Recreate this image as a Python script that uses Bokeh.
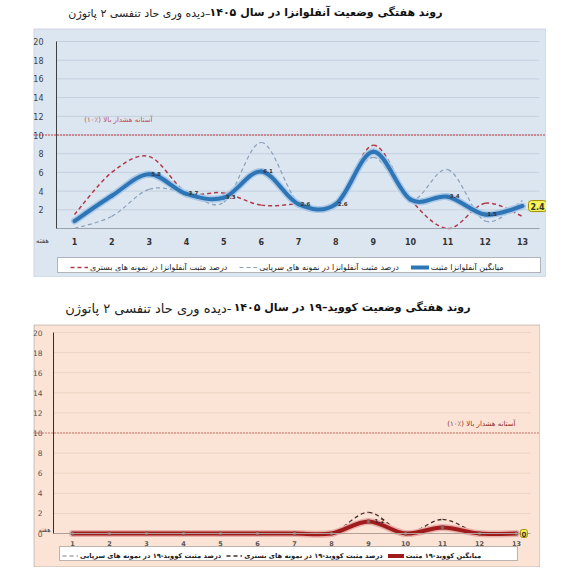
import numpy as np
from bokeh.plotting import figure
from bokeh.models import (Label, LabelSet, Span, Legend, LegendItem, ColumnDataSource,
                          FixedTicker, Range1d, Spacer, BoxAnnotation)
from bokeh.layouts import column, row
from bokeh.embed import file_html
from bokeh.resources import INLINE
from bokeh.core.properties import value

FONT = "DejaVu Sans"
RLM = "\u200f"

# ---------------- data ----------------
weeks = [1, 2, 3, 4, 5, 6, 7, 8, 9, 10, 11, 12, 13]
week_labels = ["1", "2", "3", "4", "5", "6", "7", "8", "9", "10", "11", "12", "13"]
y_ticks = [0, 2, 4, 6, 8, 10, 12, 14, 16, 18, 20]
threshold = 10

flu_avg = [0.8, 3.5, 5.8, 3.7, 3.3, 6.1, 2.6, 2.6, 8.2, 3.1, 3.4, 1.5, 2.4]
flu_hosp = [1.5, 6.0, 7.7, 3.9, 3.8, 2.5, 2.6, 2.5, 8.9, 3.1, 0.0, 2.7, 1.3]
flu_outp = [0.0, 1.3, 4.2, 3.8, 2.8, 9.2, 2.8, 2.8, 7.6, 3.0, 6.3, 0.8, 3.0]
flu_label_weeks = [3, 4, 5, 6, 7, 8, 11, 12]

covid_avg = [0, 0, 0, 0, 0, 0, 0, 0, 1.2, 0, 0.6, 0, 0]
covid_hosp = [0, 0, 0, 0, 0, 0, 0, 0, 2.1, 0, 1.4, 0, 0]
covid_outp = [0, 0, 0, 0, 0, 0, 0, 0, 0, 0, 0, 0, 0]
covid_label_weeks = [9]

title1_bold = "روند هفتگی وضعیت آنفلوانزا در سال ۱۴۰۵"
title1_reg = "–دیده وری حاد تنفسی ۲ پاتوژن"
title2_bold = "روند هفتگی وضعیت کووید–۱۹ در سال ۱۴۰۵"
title2_reg = "-دیده وری حاد تنفسی ۲ پاتوژن"
threshold_text = "آستانه هشدار بالا (٪۱۰)"
week_word = "هفته"

flu_names = ["درصد مثبت آنفلوانزا در نمونه های بستری",
             "درصد مثبت آنفلوانزا در نمونه های سرپایی",
             "میانگین آنفلوانزا مثبت"]
covid_names = ["درصد مثبت کووید-۱۹ در نمونه های سرپایی",
               "درصد مثبت کووید-۱۹ در نمونه های بستری",
               "میانگین کووید-۱۹ مثبت"]


def smooth(xs, ys, t=1.0 / 6.0):
    xs = np.asarray(xs, float)
    ys = np.asarray(ys, float)
    n = len(xs)
    xp = np.concatenate([[xs[0]], xs, [xs[-1]]])
    yp = np.concatenate([[ys[0]], ys, [ys[-1]]])
    return dict(
        x0=xs[:-1], y0=ys[:-1], x1=xs[1:], y1=ys[1:],
        cx0=xs[:-1] + (xp[2:n + 1] - xp[0:n - 1]) * t,
        cy0=ys[:-1] + (yp[2:n + 1] - yp[0:n - 1]) * t,
        cx1=xs[1:] - (xp[3:n + 2] - xp[1:n]) * t,
        cy1=ys[1:] - (yp[3:n + 2] - yp[1:n]) * t,
    )


def curve(p, ys, **kw):
    src = ColumnDataSource(smooth(weeks, ys))
    return p.bezier(x0="x0", y0="y0", x1="x1", y1="y1", cx0="cx0", cy0="cy0",
                    cx1="cx1", cy1="cy1", source=src, **kw)


def title_fig(h, y, bold, reg, bold_right, reg_right, reg_size):
    t = figure(width=573, height=h, x_range=Range1d(0, 573), y_range=Range1d(h, 0),
               x_axis_type=None, y_axis_type=None, output_backend="svg",
               toolbar_location=None, min_border=0, outline_line_color=None,
               border_fill_color="white", background_fill_color="white")
    t.add_layout(Label(x=bold_right, y=y, text=bold, text_align="right",
                       text_baseline="middle", text_font=FONT,
                       text_font_size="11px", text_font_style="bold", text_color="#111111"))
    t.add_layout(Label(x=reg_right, y=y + 1, text=RLM + reg, text_align="right",
                       text_baseline="middle", text_font=FONT,
                       text_font_size=reg_size, text_color="#222222"))
    return t


def chart(W, H, xr, yr, axis_x, grid_end, bg, grid_col, border_col):
    # the frame covers the whole panel; the axes sit at fixed data locations
    p = figure(width=W, height=H, x_range=Range1d(*xr), y_range=Range1d(*yr),
               output_backend="svg", toolbar_location=None, min_border=0,
               background_fill_color=bg, border_fill_color=bg, outline_line_color=None)
    p.grid.visible = False
    p.segment(x0=[axis_x] * len(y_ticks), x1=[grid_end] * len(y_ticks),
              y0=y_ticks, y1=y_ticks, line_color=grid_col, line_width=1, level="underlay")
    p.yaxis.ticker = FixedTicker(ticks=y_ticks)
    p.xaxis.ticker = FixedTicker(ticks=weeks)
    p.xaxis.major_label_overrides = {w: l for w, l in zip(weeks, week_labels)}
    p.yaxis.fixed_location = axis_x
    p.xaxis.fixed_location = 0
    p.yaxis.bounds = (0, 20)
    p.xaxis.bounds = (axis_x, grid_end)
    for ax in (p.xaxis[0], p.yaxis[0]):
        ax.major_tick_line_color = None
        ax.minor_tick_line_color = None
        ax.major_label_text_font = FONT
    p.add_layout(BoxAnnotation(left=0.5, right=W - 0.5, top=0.5, bottom=H - 0.5,
                               left_units="canvas", right_units="canvas",
                               top_units="canvas", bottom_units="canvas",
                               fill_alpha=0, line_color=border_col, line_width=1,
                               level="underlay"))
    return p


# ---------------- chart 1 (influenza) ----------------
c1 = chart(513, 249, (-0.098, 13.643), (-5.24, 21.39), 0.518, 13.455,
           "#dce6f1", "#c3cfdd", "#9fa9b5")
c1.yaxis.axis_line_color = "#404040"
c1.xaxis.axis_line_color = "#9aa4b0"
c1.yaxis.major_label_text_font_size = "8px"
c1.yaxis.major_label_text_color = "#404040"
c1.yaxis.major_label_standoff = 7
c1.yaxis.major_label_overrides = {0: ""}
c1.xaxis.major_label_text_font_size = "8px"
c1.xaxis.major_label_text_font_style = "bold"
c1.xaxis.major_label_text_color = "#333333"
c1.xaxis.major_label_standoff = 3

c1.add_layout(Span(location=threshold, dimension="width", line_color="#c00000",
                   line_dash="1 2", line_width=1.6))
c1.add_layout(Label(x=119, y=158, x_units="screen", y_units="screen", text=threshold_text + RLM,
                    text_align="right", text_baseline="middle", text_font=FONT,
                    text_font_size="7px", text_color="#c0504d"))

r_h = curve(c1, flu_hosp, line_color="#b23a48", line_width=1.5, line_dash="4 3")
r_o = curve(c1, flu_outp, line_color="#8aa0b8", line_width=1.2, line_dash="4 3")
curve(c1, flu_avg, line_color="#a9c8e8", line_width=7, line_cap="round")
r_a = curve(c1, flu_avg, line_color="#2e75b6", line_width=4, line_cap="round")

lab1 = ColumnDataSource(dict(
    x=[w for w in flu_label_weeks],
    y=[flu_avg[weeks.index(w)] for w in flu_label_weeks],
    t=["%.1f" % flu_avg[weeks.index(w)] for w in flu_label_weeks]))
c1.add_layout(LabelSet(x="x", y="y", text="t", source=lab1, x_offset=2, y_offset=1,
                       text_font=value(FONT), text_font_size="5.5px", text_font_style="bold",
                       text_color="#333333", text_baseline="middle"))
c1.add_layout(Label(x=weeks[-1], y=flu_avg[-1], x_offset=6, text="%.1f" % flu_avg[-1],
                    text_baseline="middle", text_font=FONT, text_font_size="8px",
                    text_font_style="bold", text_color="#333333",
                    background_fill_color="#f7f35a", border_line_color="#a08c00",
                    padding=2, border_radius=3))
c1.add_layout(Label(x=9, y=37, x_units="screen", y_units="screen", text=week_word,
                    text_align="center", text_baseline="middle", text_font=FONT,
                    text_font_size="7px", text_color="#404040"))

# legend box (canvas coords)
c1.add_layout(BoxAnnotation(left=24, right=507, top=229, bottom=244,
                            left_units="canvas", right_units="canvas",
                            top_units="canvas", bottom_units="canvas",
                            fill_color="white", fill_alpha=1, line_color="#222222",
                            line_width=1, level="underlay"))
leg1 = Legend(items=[LegendItem(label=flu_names[0], renderers=[r_h]),
                     LegendItem(label=flu_names[1], renderers=[r_o]),
                     LegendItem(label=flu_names[2], renderers=[r_a])],
              orientation="horizontal", location=(37, 5), padding=2, margin=0,
              spacing=12, glyph_width=18, glyph_height=10, label_height=10,
              label_standoff=2, label_text_font=FONT, label_text_font_size="8px",
              label_text_color="#222222", background_fill_alpha=0, border_line_color=None)
c1.add_layout(leg1, "center")

# ---------------- chart 2 (covid) ----------------
c2 = chart(507, 243, (-0.054, 13.649), (-3.383, 20.80), 0.486, 13.378,
           "#fbe4d6", "#ecd2c2", "#4a4a4a")
c2.yaxis.axis_line_color = "#3a2a2a"
c2.xaxis.axis_line_color = "#b0a098"
c2.yaxis.major_label_text_font_size = "7.5px"
c2.yaxis.major_label_text_color = "#555555"
c2.yaxis.major_label_standoff = 5
c2.xaxis.major_label_text_font_size = "6.5px"
c2.xaxis.major_label_text_font_style = "bold"
c2.xaxis.major_label_text_color = "#555555"
c2.xaxis.major_label_standoff = 1

c2.add_layout(Span(location=threshold, dimension="width", line_color="#a01010",
                   line_dash="1 2", line_width=1.2))
c2.add_layout(Label(x=482, y=144, x_units="screen", y_units="screen", text=threshold_text + RLM,
                    text_align="right", text_baseline="middle", text_font=FONT,
                    text_font_size="7px", text_color="#8a3030"))

s_o = curve(c2, covid_outp, line_color="#7f7f7f", line_width=1.2, line_dash="4 3")
s_h = curve(c2, covid_hosp, line_color="#4a2a2a", line_width=1.3, line_dash="4 3")
curve(c2, covid_avg, line_color="#e8b0aa", line_width=7, line_cap="round")
s_a = curve(c2, covid_avg, line_color="#a01c1c", line_width=4, line_cap="round")
c2.scatter(weeks, covid_avg, marker="diamond", size=4, color="#8a6a6a")

lab2 = ColumnDataSource(dict(
    x=[w for w in covid_label_weeks],
    y=[covid_avg[weeks.index(w)] for w in covid_label_weeks],
    t=["%.1f" % covid_avg[weeks.index(w)] for w in covid_label_weeks]))
c2.add_layout(LabelSet(x="x", y="y", text="t", source=lab2, x_offset=6, y_offset=1,
                       text_font=value(FONT), text_font_size="5.5px", text_font_style="bold",
                       text_color="#333333", text_baseline="middle"))
c2.add_layout(Label(x=weeks[-1], y=covid_avg[-1], x_offset=4, text="%g" % covid_avg[-1],
                    text_baseline="middle", text_font=FONT, text_font_size="7px",
                    text_font_style="bold", text_color="#333333",
                    background_fill_color="#f7f35a", border_line_color="#a08c00",
                    padding=1, border_radius=2))
c2.add_layout(Label(x=11, y=37.5, x_units="screen", y_units="screen", text=week_word,
                    text_align="center", text_baseline="middle", text_font=FONT,
                    text_font_size="6.5px", text_color="#404040"))

c2.add_layout(BoxAnnotation(left=26, right=484, top=222, bottom=236,
                            left_units="canvas", right_units="canvas",
                            top_units="canvas", bottom_units="canvas",
                            fill_color="white", fill_alpha=1, line_color="#222222",
                            line_width=1, level="underlay"))
leg2 = Legend(items=[LegendItem(label=covid_names[0], renderers=[s_o]),
                     LegendItem(label=covid_names[1], renderers=[s_h]),
                     LegendItem(label=covid_names[2], renderers=[s_a])],
              orientation="horizontal", location=(29, 7), padding=2, margin=0,
              spacing=5, glyph_width=16, glyph_height=9, label_height=9,
              label_standoff=2, label_text_font=FONT, label_text_font_size="6.7px",
              label_text_font_style="bold",
              label_text_color="#222222", background_fill_alpha=0, border_line_color=None)
c2.add_layout(leg2, "center")

# ---------------- titles & layout ----------------
t1 = title_fig(28, 12, title1_bold, title1_reg, 442, 210, "11px")
t2 = title_fig(47, 30, title2_bold, title2_reg, 470, 231, "13px")

layout = column(t1,
                row(Spacer(width=33, height=249), c1),
                t2,
                row(Spacer(width=33, height=243), c2))

open("out.html", "w").write(file_html(layout, INLINE))
